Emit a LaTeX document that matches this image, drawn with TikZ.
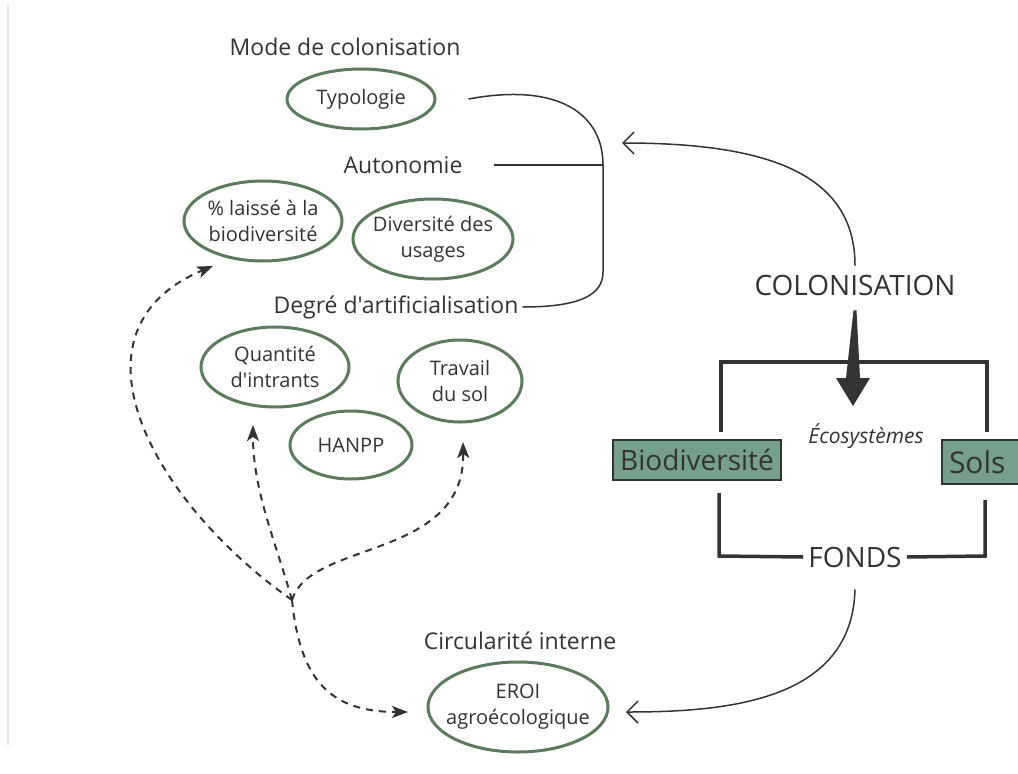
\documentclass[tikz,border=0pt]{standalone}
\usepackage{fontspec}
\setmainfont{Open Sans}[Ligatures=TeXOff]
\usetikzlibrary{arrows.meta,shapes.geometric}

\definecolor{ink}{HTML}{333333}
\definecolor{ovalgreen}{HTML}{5C7B5C}
\definecolor{boxgreen}{HTML}{74A08C}

\tikzset{
  oval/.style={ellipse, draw=ovalgreen, line width=3pt, inner sep=0pt},
  ovaltext/.style={text=ink, inner sep=0pt, align=center,
    font=\fontsize{20}{26}\selectfont},
  heading/.style={text=ink, inner sep=0pt, font=\fontsize{23}{28}\selectfont},
  bigword/.style={text=ink, inner sep=0pt, font=\fontsize{28}{32}\selectfont},
  compart/.style={draw=ink, fill=boxgreen, line width=2pt, inner sep=0pt,
    text=ink, font=\fontsize{28}{32}\selectfont},
  frameline/.style={draw=ink, line width=3.5pt},
  thinline/.style={draw=ink, line width=1.5pt},
  flow/.style={thinline, -{Straight Barb[length=11pt,width=22pt,line width=1.5pt]}},
  link/.style={draw=ink, line width=2pt, dash pattern=on 7pt off 6pt,
    -{Stealth[length=16pt,width=12pt,inset=4pt]}}
}
% an oval of fixed size with its text centred inside
\newcommand\ovalnode[5]{%
  \node[oval, minimum width=#3, minimum height=#4,
    label={[ovaltext]center:{#5}}] (#1) at #2 {};}

\begin{document}
\begin{tikzpicture}[x=1pt,y=-1pt]
\useasboundingbox (0,0) rectangle (1018,774);
\clip (0,0) rectangle (1018,774);
\fill[white] (0,0) rectangle (1018,774);

% thin margin rule on the left
\draw[black!10, line width=1.2pt] (8,5) -- (8,745);

% indicator groups
\node[heading] (mode) at (345,47) {Mode de colonisation};
\ovalnode{typo}{(361,99)}{148pt}{60pt}{Typologie}

\node[heading] (auto) at (403,165) {Autonomie};
\ovalnode{laisse}{(263,221)}{158pt}{80pt}{\% laissé à la\\biodiversité}
\ovalnode{usages}{(433,239)}{160pt}{80pt}{Diversité des\\usages}

\node[heading] (degre) at (396,307) {Degré d'artificialisation};
\ovalnode{intrants}{(275,367)}{148pt}{80pt}{Quantité\\d'intrants}
\ovalnode{travail}{(460,381)}{124pt}{82pt}{Travail\\du sol}
\ovalnode{hanpp}{(351,445)}{122pt}{68pt}{HANPP}

\node[heading] (circ) at (520,641) {Circularité interne};
\ovalnode{eroi}{(518,707)}{180pt}{90pt}{EROI\\agroécologique}

% brace gathering the three groups
\draw[thinline] ([xshift=32pt]typo.east) .. controls (560,82) and (603,115) .. (603,165)
  -- (603,272) .. controls (603,295) and (580,307) .. ([xshift=4pt]degre.east);
\draw[thinline] ([xshift=31pt]auto.east) -- (603,165);

% ecosystem block
\node[bigword] (col) at (855,285) {COLONISATION};
\node[bigword] (fonds) at (855,557) {FONDS};
\node[text=ink, inner sep=0pt, font=\fontsize{21}{26}\selectfont\itshape] (eco) at (866,436) {Écosystèmes};
\node[compart, minimum width=168pt, minimum height=40pt] (bio) at (697,460) {Biodiversité};
\node[compart, minimum width=90pt, minimum height=44pt, text width=76pt,
  font=\fontsize{30}{34}\selectfont] (sols) at (987,462) {Sols};

\draw[frameline] (721,432) -- (721,362) -- (987,362) -- (987,432);
\draw[frameline] (719,493) -- (719,556) -- ([xshift=-5pt]fonds.west);
\draw[frameline] ([xshift=5pt]fonds.east) -- (985,556) -- (985,500);

% tapered arrow of colonisation
\coordinate (shafttop) at ([yshift=-15pt]col.south);
\fill[ink] ([xshift=-1.5pt]shafttop) -- ([xshift=1.5pt]shafttop) -- (860,378) -- (870,378)
  -- (853,406) -- (836,378) -- (846,378) -- cycle;

% feedback curves
\coordinate (colin) at (622,143);
\coordinate (eroiin) at (626,712);
\draw[flow] ([yshift=9pt]col.north) .. controls (855,170) and (760,143) .. (colin);
\draw[flow] ([yshift=-22pt]fonds.south) .. controls (852,700) and (730,712) .. (eroiin);

% dashed links from the common origin
\coordinate (fork) at (292,600);
\coordinate (tolaisse) at (213,266);
\coordinate (tointrants) at (253,425);
\coordinate (totravail) at (463,442);
\coordinate (toeroi) at (408,712);
\draw[link] (fork) .. controls (150,500) and (60,330) .. (tolaisse);
\draw[link] (fork) .. controls (275,540) and (253,490) .. (tointrants);
\draw[link] (fork) .. controls (310,540) and (465,560) .. (totravail);
\draw[link] (fork) .. controls (300,680) and (330,712) .. (toeroi);
\end{tikzpicture}
\end{document}
